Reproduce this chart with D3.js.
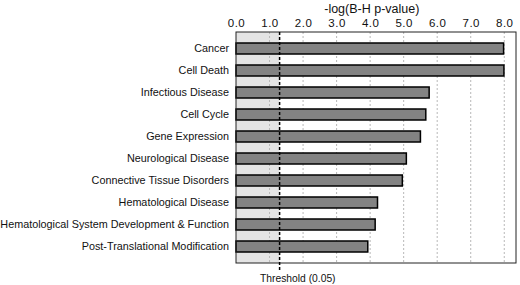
<!DOCTYPE html>
<html>
<head>
<meta charset="utf-8">
<script src="https://cdn.jsdelivr.net/npm/d3@7"></script>
<style>
  body { margin: 0; background: #fff; }
  svg { display: block; font-family: "Liberation Sans", Arial, sans-serif; }
</style>
</head>
<body>
<div class="chart"></div>
<script>
const categories = [
  "Cancer",
  "Cell Death",
  "Infectious Disease",
  "Cell Cycle",
  "Gene Expression",
  "Neurological Disease",
  "Connective Tissue Disorders",
  "Hematological Disease",
  "Hematological System Development & Function",
  "Post-Translational Modification"
];
const values = [7.98, 7.99, 5.76, 5.66, 5.5, 5.08, 4.96, 4.22, 4.15, 3.93];
const tickValues = [0, 1, 2, 3, 4, 5, 6, 7, 8];
const threshold = 1.3;

const width = 520, height = 285;
const margin = {top: 32, right: 4, bottom: 22, left: 236};
const fontFam = '"Liberation Sans", Arial, sans-serif';

const svg = d3.select('.chart').append('svg')
  .attr('width', width)
  .attr('height', height);

const x = d3.scaleLinear()
  .domain([0, 8.35])
  .range([margin.left, width - margin.right]);

const y = d3.scaleBand()
  .domain(categories)
  .range([margin.top, height - margin.bottom])
  .paddingInner(0.5)
  .paddingOuter(0.5);

// shaded area below threshold
svg.append('rect')
  .attr('x', x(0))
  .attr('y', margin.top)
  .attr('width', x(threshold) - x(0))
  .attr('height', height - margin.bottom - margin.top)
  .attr('fill', '#e4e4e4');

// grid
svg.append('g')
  .selectAll('line')
  .data(tickValues.filter(d => d > 0))
  .join('line')
  .attr('x1', d => x(d)).attr('x2', d => x(d))
  .attr('y1', margin.top).attr('y2', height - margin.bottom)
  .attr('stroke', '#b8b8b8')
  .attr('stroke-width', 1)
  .attr('stroke-dasharray', '2,2');

// top axis (labels only)
const axis = svg.append('g')
  .attr('transform', `translate(0,${margin.top})`)
  .call(d3.axisTop(x).tickValues(tickValues).tickFormat(d3.format('.1f')).tickSize(0).tickPadding(5));
axis.select('.domain').remove();
axis.selectAll('text')
  .attr('font-size', 11.5)
  .attr('letter-spacing', 0.5)
  .attr('font-family', fontFam)
  .attr('fill', '#111');

svg.append('text')
  .attr('x', x(4.05))
  .attr('y', 13)
  .attr('text-anchor', 'middle')
  .attr('font-size', 12.5)
  .attr('fill', '#111')
  .text('-log(B-H p-value)');

// bars
svg.append('g')
  .selectAll('rect')
  .data(categories)
  .join('rect')
  .attr('x', x(0))
  .attr('y', d => y(d))
  .attr('width', (d, i) => x(values[i]) - x(0))
  .attr('height', y.bandwidth())
  .attr('fill', '#838383')
  .attr('stroke', '#000')
  .attr('stroke-width', 1.5);

// category labels
svg.append('g')
  .selectAll('text')
  .data(categories)
  .join('text')
  .attr('x', margin.left - 7)
  .attr('y', d => y(d) + y.bandwidth() / 2)
  .attr('dy', '0.35em')
  .attr('text-anchor', 'end')
  .attr('font-size', 10.8)
  .attr('fill', '#111')
  .text(d => d);

// frame
svg.append('rect')
  .attr('x', x(0))
  .attr('y', margin.top)
  .attr('width', x.range()[1] - x(0))
  .attr('height', height - margin.bottom - margin.top)
  .attr('fill', 'none')
  .attr('stroke', '#222')
  .attr('stroke-width', 1);

// threshold line
svg.append('line')
  .attr('x1', x(threshold)).attr('x2', x(threshold))
  .attr('y1', margin.top).attr('y2', height - margin.bottom + 9)
  .attr('stroke', '#000')
  .attr('stroke-width', 1.5)
  .attr('stroke-dasharray', '3,2');

svg.append('text')
  .attr('x', 260)
  .attr('y', 282)
  .attr('font-size', 10.3)
  .attr('fill', '#111')
  .text('Threshold (0.05)');
</script>
</body>
</html>
